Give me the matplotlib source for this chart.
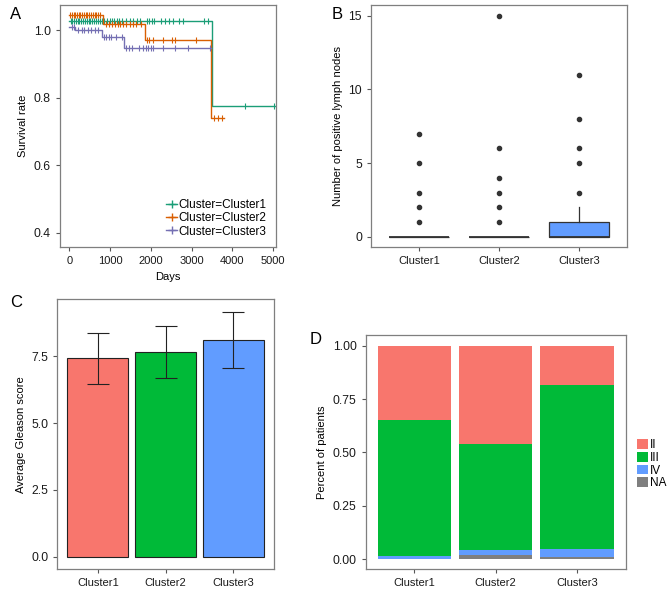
import matplotlib.pyplot as plt
from matplotlib.lines import Line2D
from matplotlib.patches import Patch

plt.rcParams['font.family'] = ['Liberation Sans', 'DejaVu Sans']
plt.rcParams['font.size'] = 8
plt.rcParams['ytick.labelsize'] = 8.8

clusters = ['Cluster1', 'Cluster2', 'Cluster3']
km_colors = ['#1B9E77', '#D95F02', '#7570B3']

# survival step curves (time, level) per cluster
km_times = [
    [0, 3508, 5070],
    [0, 826, 1855, 3470, 3790],
    [0, 135, 790, 1339, 3470],
]
km_levels = [
    [1.028, 0.776, 0.776],
    [1.045, 1.019, 0.971, 0.739, 0.739],
    [1.011, 1.000, 0.981, 0.947, 0.947],
]
km_censor = [
    [30, 70, 110, 150, 200, 240, 290, 330, 380, 420, 470, 510, 560, 600, 650, 700, 740,
     790, 850, 930, 1000, 1050, 1100, 1160, 1220, 1300, 1400, 1480, 1560, 1650, 1720,
     1900, 1960, 2020, 2080, 2250, 2350, 2450, 2550, 2680, 2800, 3310, 3410, 4310, 5030],
    [20, 60, 100, 140, 180, 230, 270, 310, 360, 400, 440, 490, 530, 570, 620, 660, 700,
     750, 900, 980, 1050, 1120, 1190, 1250, 1320, 1400, 1480, 1560, 1640, 1750,
     1900, 1960, 2060, 2300, 2520, 2580, 3100, 3560, 3660, 3740],
    [50, 100, 220, 300, 360, 450, 530, 620, 700, 850, 900, 960, 1020, 1150, 1290,
     1400, 1460, 1540, 1700, 1800, 1880, 1940, 2000, 2060, 2300, 2600, 2900, 3440],
]

# boxplot stats for lymph nodes
box_q1 = [0, 0, 0]
box_med = [0, 0, 0]
box_q3 = [0, 0, 1]
box_whishi = [0, 0, 2]
box_fliers = [[1, 2, 3, 5, 7], [1, 2, 3, 4, 6, 15], [3, 5, 6, 8, 11]]

# gleason
gleason_mean = [7.42, 7.66, 8.09]
gleason_sd = [0.96, 0.98, 1.05]
bar_colors = ['#F8766D', '#00BA38', '#619CFF']

# stage proportions
stages = ['II', 'III', 'IV', 'NA']
stage_colors = ['#F8766D', '#00BA38', '#619CFF', '#7F7F7F']
stage_na = [0.0, 0.017, 0.011]
stage_iv = [0.014, 0.025, 0.036]
stage_iii = [0.638, 0.497, 0.769]
stage_ii = [0.348, 0.461, 0.184]

fig = plt.figure(figsize=(6.69, 5.89), dpi=100)


def style(ax):
    for s in ax.spines.values():
        s.set_color('#7f7f7f')
        s.set_linewidth(0.9)
    ax.tick_params(direction='out', length=3, color='#555555', labelcolor='#1a1a1a')


# A
axA = fig.add_axes([0.0897, 0.5806, 0.3229, 0.4109])
for i in range(3):
    axA.step(km_times[i], km_levels[i], where='post', color=km_colors[i], lw=1)
    cy = []
    for t in km_censor[i]:
        lv = km_levels[i][0]
        for tt, l in zip(km_times[i], km_levels[i]):
            if t >= tt:
                lv = l
        cy.append(lv)
    axA.plot(km_censor[i], cy, ls='none', marker='|', ms=5, mew=0.8, color=km_colors[i])
axA.set_xlim(-233, 5074)
axA.set_ylim(0.358, 1.075)
axA.set_xticks([0, 1000, 2000, 3000, 4000, 5000])
axA.set_yticks([0.4, 0.6, 0.8, 1.0])
axA.set_xlabel('Days')
axA.set_ylabel('Survival rate')
handles = [Line2D([], [], color=c, marker='+', ms=6, lw=1) for c in km_colors]
axA.legend(handles, ['Cluster=' + c for c in clusters], loc='lower right', frameon=False,
           handlelength=1.0, handletextpad=0.1, labelspacing=0.1, fontsize=8.5,
           borderaxespad=0.4)
style(axA)

# B
axB = fig.add_axes([0.5546, 0.5806, 0.3822, 0.4114])
stats = []
for i in range(3):
    stats.append(dict(med=box_med[i], q1=box_q1[i], q3=box_q3[i], whislo=box_q1[i],
                      whishi=box_whishi[i], fliers=box_fliers[i], label=clusters[i]))
bp = axB.bxp(stats, positions=[1, 2, 3], widths=0.75, patch_artist=True, showcaps=False,
             boxprops=dict(edgecolor='#333333', lw=0.9),
             medianprops=dict(color='#333333', lw=1.3),
             whiskerprops=dict(color='#333333', lw=0.9),
             flierprops=dict(marker='o', markerfacecolor='#333333', markeredgecolor='#333333', ms=3))
for p, c in zip(bp['boxes'], bar_colors):
    p.set_facecolor(c)
axB.set_xlim(0.4, 3.6)
axB.set_ylim(-0.7, 15.75)
axB.set_yticks([0, 5, 10, 15])
axB.set_ylabel('Number of positive lymph nodes')
style(axB)

# C
axC = fig.add_axes([0.0857, 0.034, 0.3239, 0.4578])
axC.bar([1, 2, 3], gleason_mean, width=0.9, color=bar_colors, edgecolor='#222222', lw=0.8)
axC.errorbar([1, 2, 3], gleason_mean, yerr=gleason_sd, fmt='none', ecolor='#222222',
             elinewidth=0.8, capsize=8, capthick=0.8)
axC.set_xticks([1, 2, 3])
axC.set_xticklabels(clusters)
axC.set_xlim(0.4, 3.6)
axC.set_ylim(-0.45, 9.62)
axC.set_yticks([0, 2.5, 5, 7.5])
axC.set_yticklabels(['0.0', '2.5', '5.0', '7.5'])
axC.set_ylabel('Average Gleason score')
style(axC)

# D
axD = fig.add_axes([0.5466, 0.0334, 0.3887, 0.3978])
x = [1, 2, 3]
bottom = [0, 0, 0]
for vals, c in zip([stage_na, stage_iv, stage_iii, stage_ii], stage_colors[::-1]):
    axD.bar(x, vals, bottom=bottom, width=0.9, color=c)
    bottom = [b + v for b, v in zip(bottom, vals)]
axD.set_xticks(x)
axD.set_xticklabels(clusters)
axD.set_xlim(0.4, 3.6)
axD.set_ylim(-0.048, 1.05)
axD.set_yticks([0, 0.25, 0.5, 0.75, 1.0])
axD.set_yticklabels(['0.00', '0.25', '0.50', '0.75', '1.00'])
axD.set_ylabel('Percent of patients')
style(axD)
leg_handles = [Patch(facecolor=c) for c in stage_colors]
fig.legend(leg_handles, stages, loc='upper left', bbox_to_anchor=(0.945, 0.262), frameon=False,
           handlelength=0.9, handleheight=0.9, handletextpad=0.2, labelspacing=0.05,
           borderaxespad=0, fontsize=8.5)

fig.text(0.015, 0.975, 'A', fontsize=12, va='center')
fig.text(0.496, 0.975, 'B', fontsize=12, va='center')
fig.text(0.015, 0.487, 'C', fontsize=12, va='center')
fig.text(0.463, 0.423, 'D', fontsize=12, va='center')

fig.savefig('out.png', dpi=100)
